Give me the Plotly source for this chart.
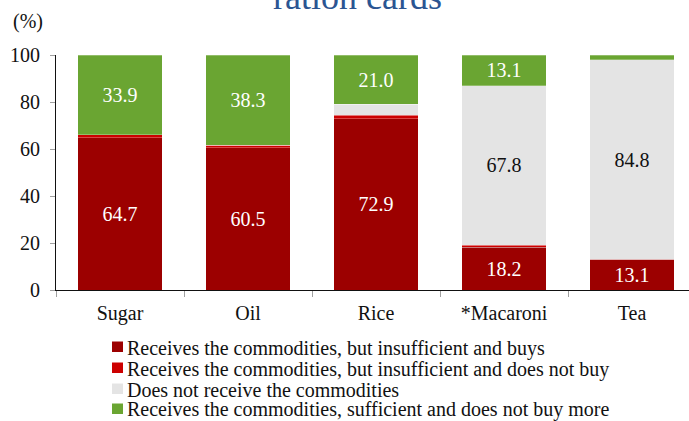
import plotly.graph_objects as go

categories = ["Sugar", "Oil", "Rice", "*Macaroni", "Tea"]
series_names = [
    "Receives the commodities, but insufficient and buys",
    "Receives the commodities, but insufficient and does not buy",
    "Does not receive the commodities",
    "Receives the commodities, sufficient and does not buy more",
]
insufficient_buys = [64.7, 60.5, 72.9, 18.2, 13.1]
insufficient_not_buy = [1.4, 1.2, 1.4, 0.9, 0.0]
not_receive = [0.0, 0.0, 4.7, 67.8, 84.8]
sufficient = [33.9, 38.3, 21.0, 13.1, 2.1]
y_ticks = [0, 20, 40, 60, 80, 100]

colors = ["#9C0000", "#CC0000", "#E4E4E4", "#6AA532"]
text_colors = ["white", "white", "#111111", "white"]
values = [insufficient_buys, insufficient_not_buy, not_receive, sufficient]
show_labels = [True, False, True, True]

FONT = "Liberation Serif, Times New Roman, serif"
FS = 20

# plot area geometry in pixels
W, H = 689, 421
L, T, B = 56, 55, 131
PW, PH = W - L, H - T - B

def px_x(px):
    return (px - L) / PW

def px_y(py):
    return (H - B - py) / PH

fig = go.Figure()
for name, vals, col, tcol, lab in zip(series_names, values, colors, text_colors, show_labels):
    txt = [f"{v:.1f}" if (lab and v >= 5) else "" for v in vals]
    fig.add_trace(go.Bar(
        x=categories, y=vals, name=name,
        marker=dict(color=col, line=dict(color="rgba(255,255,255,0.45)", width=0.6)),
        text=txt, textposition="inside", insidetextanchor="middle",
        textfont=dict(family=FONT, size=FS, color=tcol),
        textangle=0, constraintext="none",
        width=0.66, hoverinfo="skip", showlegend=False,
    ))

fig.update_layout(
    barmode="stack",
    width=W, height=H,
    margin=dict(l=L, r=0, t=T, b=B, autoexpand=False),
    paper_bgcolor="white", plot_bgcolor="white",
    font=dict(family=FONT, size=FS, color="#111111"),
    uniformtext=dict(minsize=8, mode="show"),
    showlegend=False,
    xaxis=dict(range=[-0.5, 4.445], showline=True, linecolor="#111111", linewidth=1,
               ticks="outside", tickson="boundaries", ticklen=6, tickcolor="#A0A0A0",
               showgrid=False, ticklabelstandoff=5,
               tickfont=dict(family=FONT, size=FS, color="#111111")),
    yaxis=dict(range=[0, 100], tickvals=y_ticks, showline=True, linecolor="#111111",
               linewidth=1, ticks="outside", ticklen=5, tickcolor="#A0A0A0",
               showgrid=False, zeroline=False, ticklabelstandoff=6,
               tickfont=dict(family=FONT, size=FS, color="#111111")),
)

# title (its upper part lies above the picture, as in the reference)
fig.add_annotation(text="ration cards", xref="paper", yref="paper", x=px_x(357), y=px_y(-3.5),
                   xanchor="center", yanchor="middle", showarrow=False,
                   font=dict(family=FONT, size=36, color="#2B5592"))

fig.add_annotation(text="(%)", xref="paper", yref="paper", x=px_x(28), y=px_y(21),
                   xanchor="center", yanchor="middle", showarrow=False,
                   font=dict(family=FONT, size=FS, color="#111111"))

# legend drawn as text + colour squares
row_centers = [347, 368, 389, 409]
for name, col, yc in zip(series_names, colors, row_centers):
    fig.add_shape(type="rect", xref="paper", yref="paper",
                  x0=px_x(112), x1=px_x(123), y0=px_y(yc + 5), y1=px_y(yc - 5.5),
                  fillcolor=col, line=dict(width=0))
    fig.add_annotation(text=name, xref="paper", yref="paper", x=px_x(125), y=px_y(yc + 1),
                       xanchor="left", yanchor="middle", showarrow=False,
                       font=dict(family=FONT, size=FS, color="#111111"))

fig.write_html("out.html", config={"displayModeBar": False},
               post_script="document.body.style.margin='0';document.body.style.overflow='hidden';")
